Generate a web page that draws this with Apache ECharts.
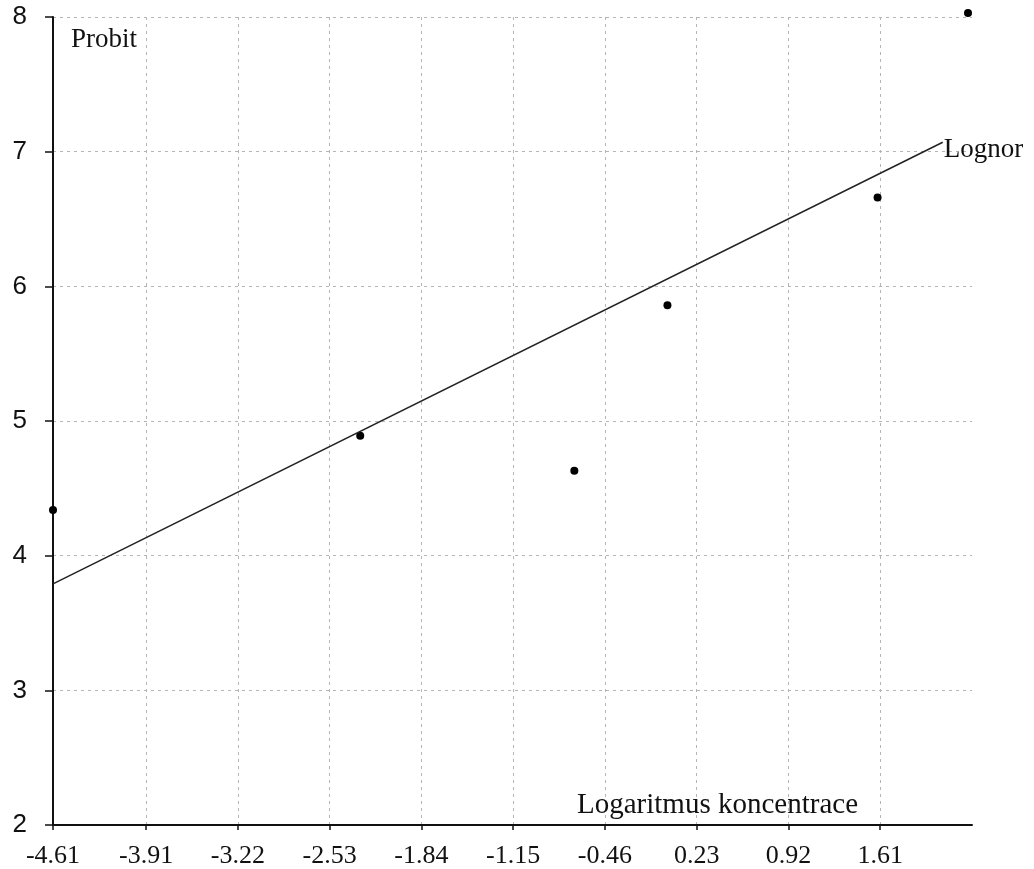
<!DOCTYPE html>
<html><head><meta charset="utf-8">
<script src="https://cdn.jsdelivr.net/npm/echarts@6/dist/echarts.min.js"></script>
<style>html,body{margin:0;padding:0;background:#fff}#c{width:1034px;height:869px}</style>
</head><body><div id="c"></div>
<script>
const xTicks = [-4.61, -3.91, -3.22, -2.53, -1.84, -1.15, -0.46, 0.23, 0.92, 1.61];
const yTicks = [2, 3, 4, 5, 6, 7, 8];
const pointsX = [-4.61, -2.30, -0.69, 0.01, 1.59, 2.27];
const pointsY = [4.34, 4.89, 4.63, 5.86, 6.66, 8.03];
const fitX = [-4.61, 2.08];
const fitY = [3.79, 7.07];
const fitName = 'Lognor';
const yTitle = 'Probit';
const xTitle = 'Logaritmus koncentrace';

const serif = 'Liberation Serif';
const chart = echarts.init(document.getElementById('c'));
chart.setOption({
  animation: false,
  backgroundColor: '#fff',
  grid: { left: 53, right: 62, top: 17, bottom: 44, containLabel: false },
  title: [
    { text: yTitle, left: 71, top: 26, padding: 0, textStyle: { fontFamily: serif, fontSize: 27, fontWeight: 'normal', color: '#111' } },
    { text: xTitle, left: 577, top: 791, padding: 0, textStyle: { fontFamily: serif, fontSize: 29, fontWeight: 'normal', color: '#111' } }
  ],
  xAxis: {
    type: 'value', min: -4.61, max: 2.30,
    axisLine: { show: true, onZero: false, lineStyle: { color: '#111', width: 2 } },
    axisTick: { show: true, customValues: xTicks, inside: false, length: 5, lineStyle: { color: '#111', width: 1.5 } },
    axisLabel: { customValues: xTicks, margin: 18, fontFamily: serif, fontSize: 26, color: '#111', formatter: v => v.toFixed(2) },
    splitLine: { show: true, customValues: xTicks, lineStyle: { color: '#b5b5b5', type: [3, 4], width: 1 } }
  },
  yAxis: {
    type: 'value', min: 2, max: 8, interval: 1,
    data: yTicks,
    axisLine: { show: true, onZero: false, lineStyle: { color: '#111', width: 2 } },
    axisTick: { show: true, length: 8, lineStyle: { color: '#111', width: 1.5 } },
    axisLabel: { margin: 26, fontFamily: 'Liberation Sans', fontSize: 26, color: '#111' },
    splitLine: { show: true, lineStyle: { color: '#b5b5b5', type: [3, 4], width: 1 } }
  },
  series: [
    {
      type: 'line', name: fitName,
      data: fitX.map((x, i) => [x, fitY[i]]),
      showSymbol: false, symbol: 'none',
      lineStyle: { color: '#222', width: 1.5 },
      endLabel: { show: true, formatter: fitName, distance: 1, offset: [0, 8], fontFamily: serif, fontSize: 27, color: '#111' }
    },
    {
      type: 'scatter', name: 'data', clip: false,
      data: pointsX.map((x, i) => [x, pointsY[i]]),
      symbol: 'circle', symbolSize: 8,
      itemStyle: { color: '#000', opacity: 1 }
    }
  ]
});
</script></body></html>
